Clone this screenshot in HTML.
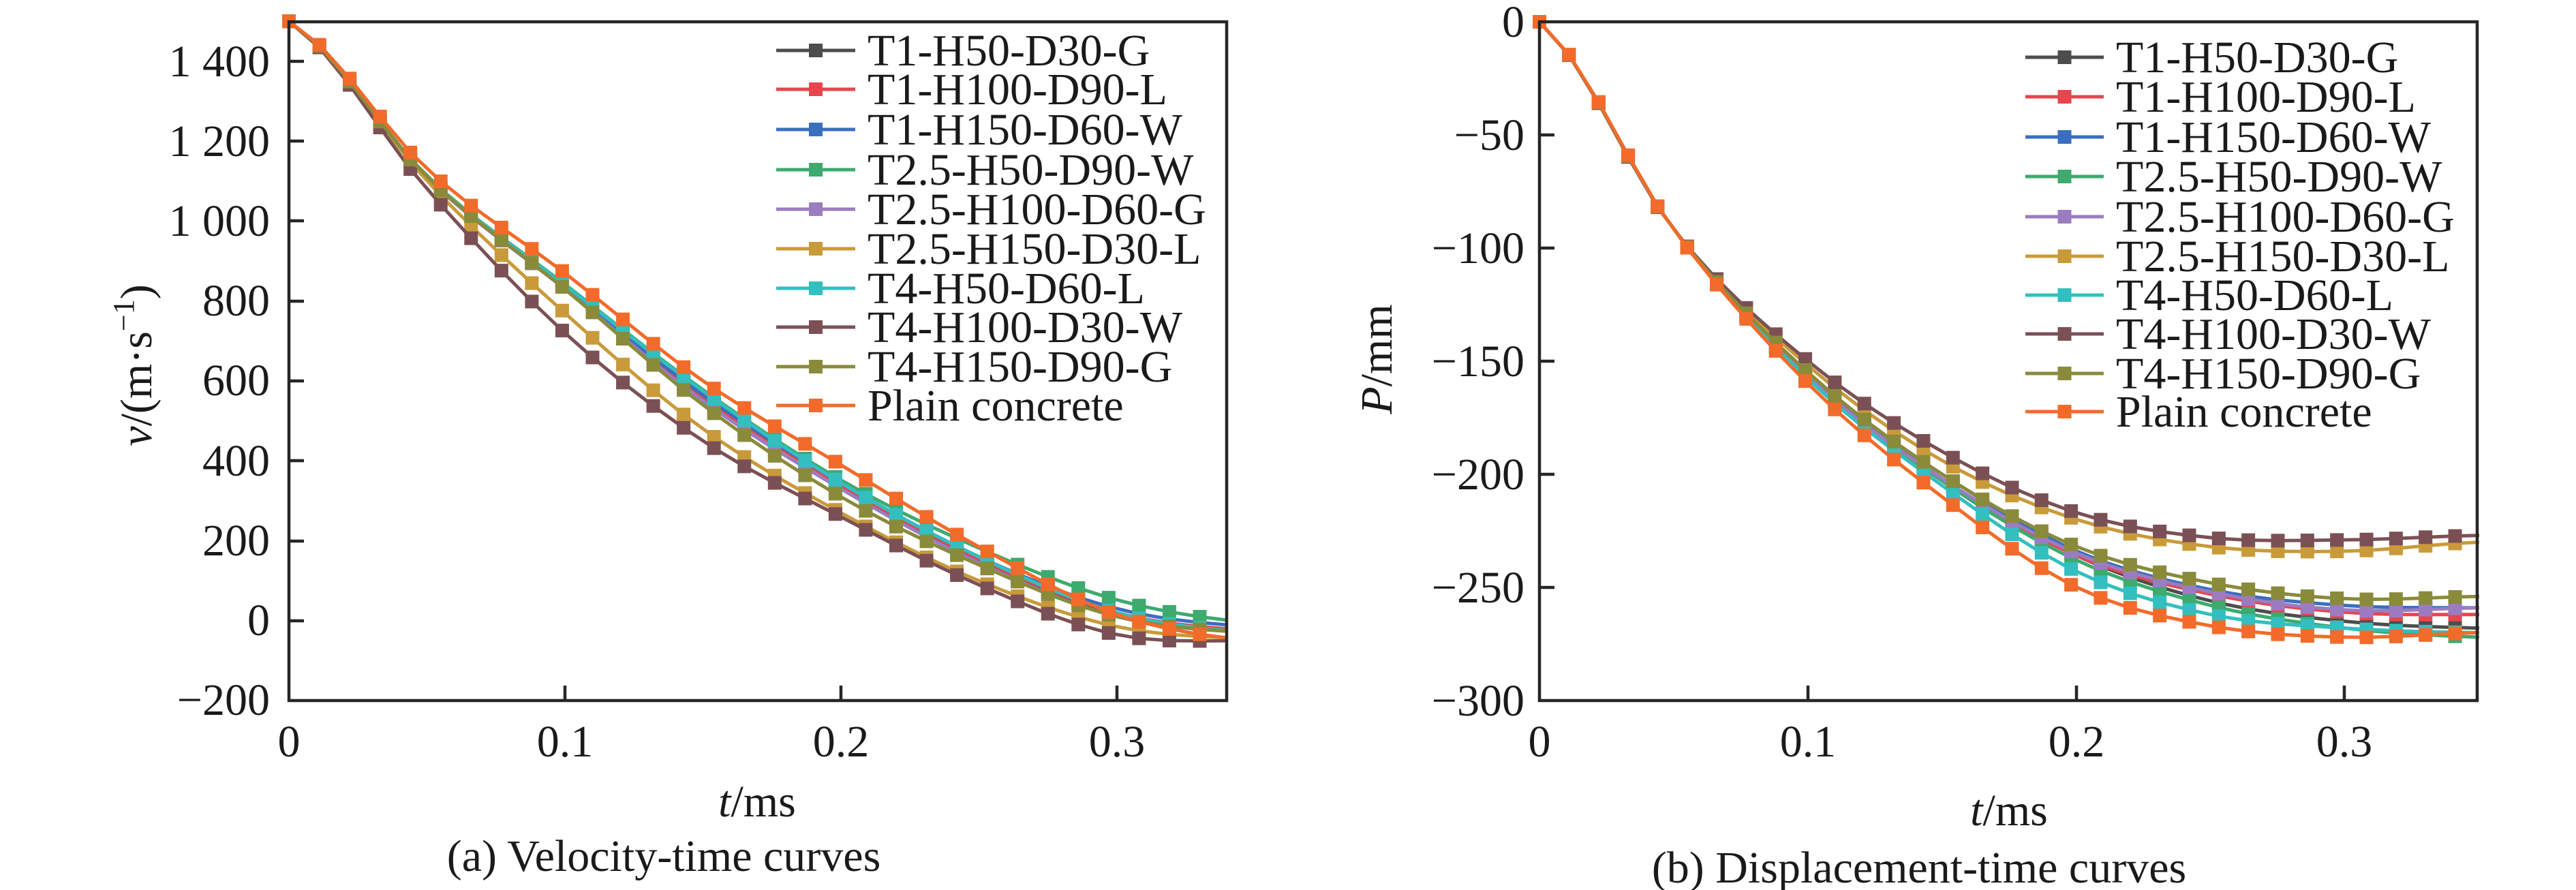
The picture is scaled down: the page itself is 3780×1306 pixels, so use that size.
<!DOCTYPE html>
<html><head><meta charset="utf-8"><style>
html,body{margin:0;padding:0;background:#fff;}
svg{display:block;}
text{font-family:"Liberation Serif",serif;fill:#1a1a1a;}
</style></head><body>
<svg id="s" width="3780" height="1306" xmlns="http://www.w3.org/2000/svg">
<!-- Left axes -->
<g font-size="66">
<text x="396" y="112" text-anchor="end">1 400</text>
<text x="396" y="229" text-anchor="end">1 200</text>
<text x="396" y="346" text-anchor="end">1 000</text>
<text x="396" y="463" text-anchor="end">800</text>
<text x="396" y="580" text-anchor="end">600</text>
<text x="396" y="698" text-anchor="end">400</text>
<text x="396" y="815" text-anchor="end">200</text>
<text x="396" y="932" text-anchor="end">0</text>
<text x="396" y="1049" text-anchor="end">−200</text>
<text x="424" y="1110" text-anchor="middle">0</text>
<text x="829" y="1110" text-anchor="middle">0.1</text>
<text x="1234" y="1110" text-anchor="middle">0.2</text>
<text x="1639" y="1110" text-anchor="middle">0.3</text>
<text x="1111" y="1198" text-anchor="middle"><tspan font-style="italic">t</tspan>/ms</text>
<text x="974" y="1278" text-anchor="middle">(a) Velocity-time curves</text>
<text transform="translate(222,536) rotate(-90)" text-anchor="middle"><tspan font-style="italic">v</tspan>/(m·s<tspan font-size="44" dy="-26">−1</tspan><tspan dy="26">)</tspan></text>
</g>
<!-- Right axes -->
<g font-size="66">
<text x="2237" y="54" text-anchor="end">0</text>
<text x="2237" y="220" text-anchor="end">−50</text>
<text x="2237" y="386" text-anchor="end">−100</text>
<text x="2237" y="552" text-anchor="end">−150</text>
<text x="2237" y="718" text-anchor="end">−200</text>
<text x="2237" y="884" text-anchor="end">−250</text>
<text x="2237" y="1050" text-anchor="end">−300</text>
<text x="2259" y="1110" text-anchor="middle">0</text>
<text x="2653" y="1110" text-anchor="middle">0.1</text>
<text x="3047" y="1110" text-anchor="middle">0.2</text>
<text x="3440" y="1110" text-anchor="middle">0.3</text>
<text x="2948" y="1211" text-anchor="middle"><tspan font-style="italic">t</tspan>/ms</text>
<text x="2816" y="1295" text-anchor="middle">(b) Displacement-time curves</text>
<text transform="translate(2042,527) rotate(-90)" text-anchor="middle"><tspan font-style="italic">P</tspan>/mm</text>
</g>
<g id="plots"></g>
<g id="frames" fill="none" stroke="#262626" stroke-width="4.5">
<rect x="424" y="32" width="1376" height="996"/>
<rect x="2259" y="32" width="1376" height="996"/>
</g>
</svg>
<script>
var NS="http://www.w3.org/2000/svg";
var svg=document.getElementById('s'),plots=document.getElementById('plots'),frames=document.getElementById('frames');
function el(n,a,p){var e=document.createElementNS(NS,n);for(var k in a)e.setAttribute(k,a[k]);(p||plots).appendChild(e);return e;}
// ticks
[[90,1],[207,1],[324,1],[442,1],[559,1],[676,1],[794,1],[911,1]].forEach(function(t){el('line',{x1:424,y1:t[0],x2:446,y2:t[0]},frames);});
[829,1234,1639].forEach(function(x){el('line',{x1:x,y1:1028,x2:x,y2:1006},frames);});
[198,364,530,696,862].forEach(function(y){el('line',{x1:2259,y1:y,x2:2281,y2:y},frames);});
[2653,3047,3440].forEach(function(x){el('line',{x1:x,y1:1028,x2:x,y2:1006},frames);});
var names=["T1-H50-D30-G","T1-H100-D90-L","T1-H150-D60-W","T2.5-H50-D90-W","T2.5-H100-D60-G","T2.5-H150-D30-L","T4-H50-D60-L","T4-H100-D30-W","T4-H150-D90-G","Plain concrete"];
var cols=["#4d4d4d","#e8454f","#3a6fc0","#3daa6e","#9b7cc1","#c99a3a","#33bfbf","#7b5055","#8a8b3a","#f26b2a"];
var V=[
[1500,1110,835,560,340,150,15,-30],
[1500,1110,835,560,340,155,20,-25],
[1500,1110,835,565,345,160,30,-15],
[1500,1112,842,578,352,182,52,-5],
[1500,1108,830,550,330,145,10,-30],
[1500,1100,770,480,270,100,-15,-45],
[1500,1110,840,575,345,160,20,-30],
[1500,1080,720,450,260,90,-35,-50],
[1500,1110,830,540,310,140,10,-30],
[1500,1130,870,600,390,185,15,-50]];
var P=[
[0,-92,-157,-202,-236,-256,-265,-268],
[0,-92,-157,-202,-236,-253,-261,-262],
[0,-92,-157,-200,-234,-251,-258,-259],
[0,-92,-157,-203,-238,-258,-268,-272],
[0,-92,-157,-202,-235,-252,-260,-259],
[0,-92,-152,-194,-220,-232,-234,-230],
[0,-92,-158,-205,-243,-262,-268,-270],
[0,-92,-150,-190,-217,-228,-229,-227],
[0,-92,-155,-200,-232,-248,-255,-254],
[0,-92,-160,-210,-250,-267,-272,-270]];
function interp(k,step,t){
  var u=t/step,i=Math.floor(u);if(i>=k.length-1)i=k.length-2;var f=u-i;
  var p0=k[Math.max(i-1,0)],p1=k[i],p2=k[i+1],p3=k[Math.min(i+2,k.length-1)];
  return 0.5*((2*p1)+(-p0+p2)*f+(2*p0-5*p1+4*p2-p3)*f*f+(-p0+3*p1-3*p2+p3)*f*f*f);
}
function draw(data,step,tmax,x0,xs,yf){
  data.forEach(function(k,si){
    var pts=[];
    for(var t=0;t<=tmax+1e-9;t+=0.011){pts.push([x0+t*xs,yf(interp(k,step,t))]);}
    var last=tmax;pts.push([x0+last*xs,yf(interp(k,step,last))]);
    el('polyline',{points:pts.map(function(p){return p[0].toFixed(1)+','+p[1].toFixed(1)}).join(' '),fill:'none',stroke:cols[si],'stroke-width':5,'stroke-linejoin':'round'});
    pts.slice(0,pts.length-1).forEach(function(p){el('rect',{x:p[0]-10,y:p[1]-10,width:20,height:20,fill:cols[si]});});
  });
}
draw(V,0.05,0.34,424,4050,function(v){return 911-v*0.5865;});
draw(P,0.05,0.35,2259,3940,function(p){return 32-p*3.32;});
function legend(lx1,lx2,tx,ys){
  names.forEach(function(n,i){
    var y=ys[i];
    el('line',{x1:lx1,y1:y,x2:lx2,y2:y,stroke:cols[i],'stroke-width':5});
    el('rect',{x:(lx1+lx2)/2-10,y:y-10,width:20,height:20,fill:cols[i]});
    var t=el('text',{x:tx,y:y+22,'font-size':66});t.textContent=n;
  });
}
legend(1139,1255,1273,[74,131,190,249,307,365,423,480,538,595]);
legend(2972,3087,3105,[84,142,201,259,318,376,433,490,548,604]);
svg.appendChild(frames);
</script>
</body></html>
